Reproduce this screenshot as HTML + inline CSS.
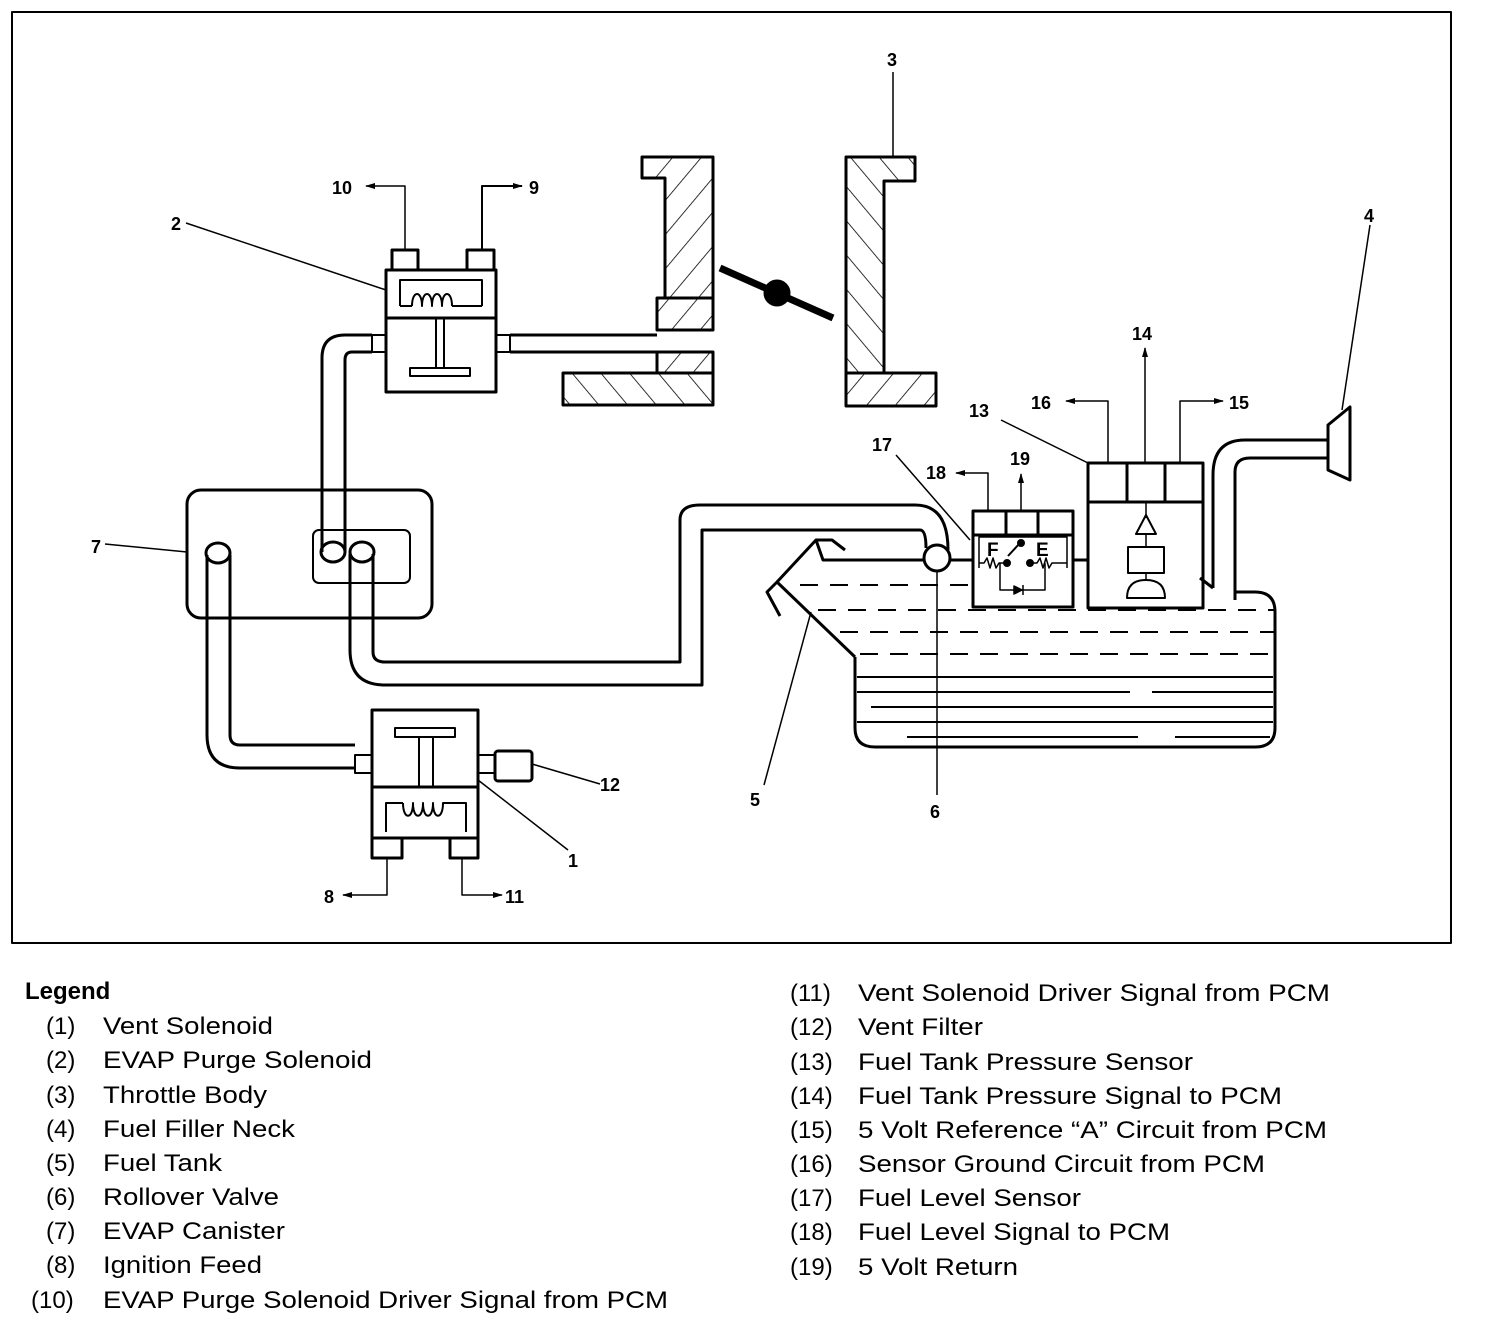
<!DOCTYPE html>
<html><head><meta charset="utf-8"><style>
html,body{margin:0;padding:0;background:#fff;}
svg{display:block;}
text{font-family:"Liberation Sans",Arial,sans-serif;fill:#000;}
</style></head><body>
<svg width="1504" height="1326" viewBox="0 0 1504 1326" xmlns="http://www.w3.org/2000/svg">
<defs>
<pattern id="h1" patternUnits="userSpaceOnUse" width="22" height="22" patternTransform="rotate(40)">
<rect width="22" height="22" fill="#fff"/><line x1="0" y1="0" x2="0" y2="22" stroke="#000" stroke-width="1.6"/></pattern>
<pattern id="h2" patternUnits="userSpaceOnUse" width="22" height="22" patternTransform="rotate(-40)">
<rect width="22" height="22" fill="#fff"/><line x1="0" y1="0" x2="0" y2="22" stroke="#000" stroke-width="1.6"/></pattern>
<marker id="ar" markerWidth="10" markerHeight="8" refX="9" refY="4" orient="auto" markerUnits="userSpaceOnUse"><path d="M0,1 L10,4 L0,7 Z" fill="#000"/></marker>
</defs>
<g fill="none" stroke="#000" stroke-width="3" stroke-linejoin="round">
<rect x="12" y="12" width="1439" height="931" stroke-width="2"/>

<rect x="392" y="250" width="26" height="20"/><rect x="467" y="250" width="27" height="20"/>
<rect x="386" y="270" width="110" height="48"/>
<rect x="386" y="318" width="110" height="74"/>
<path d="M400,306 V280 H482 V306" stroke-width="2"/>
<path d="M400,306 H412 M412,306 C412,290 422,290 422,306 C422,290 432,290 432,306 C432,290 442,290 442,306 C442,290 452,290 452,306 M452,306 H482" stroke-width="2"/>
<path d="M436,318 V368 M444,318 V368" stroke-width="2"/>
<rect x="410" y="368" width="60" height="8" stroke-width="2"/>
<rect x="372" y="335" width="14" height="17" stroke-width="2"/>
<rect x="496" y="335" width="14" height="17" stroke-width="2"/>
<path d="M510,335 H657 M510,352 H657"/>
<path d="M405,250 V186 H366" stroke-width="1.5" marker-end="url(#ar)"/>
<path d="M482,250 V186 H522" stroke-width="2" marker-end="url(#ar)"/>
<path d="M186,223 L386,290" stroke-width="1.5"/>

<path d="M642,157 H713 V298 H665 V178 H642 Z" fill="url(#h1)"/>
<rect x="657" y="298" width="56" height="32" fill="url(#h1)"/>
<rect x="657" y="352" width="56" height="21" fill="url(#h1)"/>
<rect x="563" y="373" width="150" height="32" fill="url(#h2)"/>
<path d="M846,157 H915 V181 H884 V373 H846 Z" fill="url(#h2)"/>
<rect x="846" y="373" width="90" height="33" fill="url(#h1)"/>
<line x1="720" y1="268" x2="833" y2="318" stroke-width="7"/>
<circle cx="777" cy="293" r="12" fill="#000"/>
<path d="M893,72 V157 H885" stroke-width="1.5"/>

<path d="M372,335 H345 Q322,335 322,358 V555"/>
<path d="M372,352 H352 Q345,352 345,360 V550"/>

<rect x="187" y="490" width="245" height="128" rx="14"/>
<rect x="313" y="530" width="97" height="53" rx="6" stroke-width="2"/>
<ellipse cx="333" cy="552" rx="12" ry="10" fill="#fff"/>
<ellipse cx="362" cy="552" rx="12" ry="10" fill="#fff"/>
<ellipse cx="218" cy="553" rx="12" ry="10" fill="#fff"/>
<path d="M322,535 V552 M345,535 V552"/>
<path d="M105,544 L187,552" stroke-width="1.5"/>

<path d="M350,554 V650 Q350,685 385,685 H702 V530 H920 Q926,530 926,548"/>
<path d="M373,554 V652 Q373,662 385,662 H680 V520 Q680,505 700,505 H915 Q948,505 948,550"/>
<circle cx="937" cy="558" r="13" fill="#fff"/>

<path d="M207,555 V735 Q207,768 240,768 H355"/>
<path d="M230,555 V735 Q230,745 240,745 H355"/>

<rect x="372" y="710" width="106" height="77"/>
<rect x="372" y="787" width="106" height="51"/>
<rect x="355" y="755" width="17" height="18" stroke-width="2"/>
<rect x="478" y="755" width="17" height="18" stroke-width="2"/>
<rect x="495" y="751" width="37" height="30" rx="3"/>
<rect x="395" y="728" width="60" height="9" stroke-width="2"/>
<path d="M419,737 V787 M433,737 V787" stroke-width="2"/>
<path d="M386,832 V803 H403 M403,803 C403,820 413,820 413,803 C413,820 423,820 423,803 C423,820 433,820 433,803 C433,820 443,820 443,803 H466 V832" stroke-width="2"/>
<rect x="372" y="838" width="30" height="20"/><rect x="450" y="838" width="28" height="20"/>
<path d="M387,858 V895 H343" stroke-width="1.5" marker-end="url(#ar)"/>
<path d="M462,858 V895 H502" stroke-width="1.5" marker-end="url(#ar)"/>
<path d="M532,764 L600,784" stroke-width="1.5"/>
<path d="M478,780 L568,850" stroke-width="1.5"/>

<path d="M855,657 L777,582 L767,592 L780,616"/>
<path d="M777,582 L816,540 H832 L845,550"/>
<path d="M816,540 L823,560 H924" />
<path d="M855,657 V728 Q855,747 875,747 H1255 Q1275,747 1275,728 V612 Q1275,592 1255,592 H1235"/>
<path d="M1213,588 L1200,578"/>
<g stroke-width="2" stroke-dasharray="18,12">
<line x1="800" y1="585" x2="970" y2="585"/>
<line x1="818" y1="610" x2="1274" y2="610"/>
<line x1="840" y1="632" x2="1274" y2="632"/>
<line x1="860" y1="654" x2="1274" y2="654"/>
</g>
<g stroke-width="2">
<line x1="857" y1="677" x2="1273" y2="677"/>
<line x1="857" y1="692" x2="1130" y2="692"/><line x1="1152" y1="692" x2="1273" y2="692"/>
<line x1="871" y1="707" x2="1273" y2="707"/>
<line x1="857" y1="722" x2="1273" y2="722"/>
<line x1="907" y1="737" x2="1138" y2="737"/><line x1="1175" y1="737" x2="1270" y2="737"/>
</g>
<path d="M1213,588 V475 Q1213,440 1245,440 H1328"/>
<path d="M1235,600 V472 Q1235,458 1250,458 H1328"/>
<path d="M1328,425 L1350,407 V480 L1328,470 Z" fill="#fff"/>
<path d="M1370,225 L1342,410" stroke-width="1.5"/>

<path d="M950,560 H973 M1073,560 H1088" />
<rect x="973" y="511" width="100" height="96"/>
<path d="M973,535 H1073 M1006,511 V535 M1038,511 V535"/>
<path d="M979,568 V537 H1067 V568" stroke-width="1.5"/>
<path d="M979,563 H984 L987,558 L990,568 L993,558 L996,568 L999,563 H1007" stroke-width="1.5"/>
<path d="M1029,563 H1037 L1040,558 L1043,568 L1046,558 L1049,568 L1052,563 H1067" stroke-width="1.5"/>
<circle cx="1007" cy="563" r="2.5" fill="#000"/><circle cx="1030" cy="563" r="2.5" fill="#000"/>
<path d="M1008,556 L1020,543" stroke-width="2"/><circle cx="1021" cy="543" r="2.5" fill="#000"/>
<path d="M1000,563 V590 H1045 V563" stroke-width="1.5"/>
<path d="M1014,586 L1022,590 L1014,594 Z M1023,585 V595" stroke-width="1.5" fill="#000"/>
<path d="M988,511 V473 H956" stroke-width="1.5" marker-end="url(#ar)"/>
<path d="M1021,511 V474" stroke-width="1.5" marker-end="url(#ar)"/>
<path d="M896,455 L970,540" stroke-width="1.5"/>

<rect x="1088" y="463" width="115" height="145"/>
<path d="M1088,502 H1203 M1127,463 V502 M1165,463 V502"/>
<path d="M1146,502 V518" stroke-width="1.5"/>
<path d="M1146,515 L1136,534 H1156 Z" stroke-width="2"/>
<path d="M1146,534 V547" stroke-width="1.5"/>
<rect x="1128" y="547" width="36" height="26" stroke-width="2"/>
<path d="M1146,573 V580" stroke-width="1.5"/>
<path d="M1127,598 Q1127,580 1146,580 Q1165,580 1165,598 Z" stroke-width="2"/>
<path d="M1108,463 V401 H1066" stroke-width="1.5" marker-end="url(#ar)"/>
<path d="M1145,463 V348" stroke-width="1.5" marker-end="url(#ar)"/>
<path d="M1180,463 V401 H1223" stroke-width="1.5" marker-end="url(#ar)"/>
<path d="M1001,420 L1088,463" stroke-width="1.5"/>

<path d="M764,785 L811,612" stroke-width="1.5"/>
<path d="M937,571 V795" stroke-width="1.5"/>
</g>

<g font-size="18" font-weight="bold">
<text x="332" y="194">10</text><text x="529" y="194">9</text>
<text x="171" y="230">2</text><text x="887" y="66">3</text>
<text x="1364" y="222">4</text><text x="91" y="553">7</text>
<text x="750" y="806">5</text><text x="930" y="818">6</text>
<text x="600" y="791">12</text><text x="568" y="867">1</text>
<text x="324" y="903">8</text><text x="505" y="903">11</text>
<text x="969" y="417">13</text><text x="1031" y="409">16</text>
<text x="1132" y="340">14</text><text x="1229" y="409">15</text>
<text x="872" y="451">17</text><text x="926" y="479">18</text>
<text x="1010" y="465">19</text>
<text x="987" y="556" font-size="19">F</text><text x="1036" y="556" font-size="19">E</text>
</g>

<g font-size="24">
<text x="25" y="999" font-weight="bold">Legend</text>
<text x="46" y="1034">(1)</text><text x="103" y="1034" textLength="170" lengthAdjust="spacingAndGlyphs">Vent Solenoid</text>
<text x="46" y="1068">(2)</text><text x="103" y="1068" textLength="269" lengthAdjust="spacingAndGlyphs">EVAP Purge Solenoid</text>
<text x="46" y="1103">(3)</text><text x="103" y="1103" textLength="164" lengthAdjust="spacingAndGlyphs">Throttle Body</text>
<text x="46" y="1137">(4)</text><text x="103" y="1137" textLength="192" lengthAdjust="spacingAndGlyphs">Fuel Filler Neck</text>
<text x="46" y="1171">(5)</text><text x="103" y="1171" textLength="119" lengthAdjust="spacingAndGlyphs">Fuel Tank</text>
<text x="46" y="1205">(6)</text><text x="103" y="1205" textLength="176" lengthAdjust="spacingAndGlyphs">Rollover Valve</text>
<text x="46" y="1239">(7)</text><text x="103" y="1239" textLength="182" lengthAdjust="spacingAndGlyphs">EVAP Canister</text>
<text x="46" y="1273">(8)</text><text x="103" y="1273" textLength="159" lengthAdjust="spacingAndGlyphs">Ignition Feed</text>
<text x="31" y="1308">(10)</text><text x="103" y="1308" textLength="565" lengthAdjust="spacingAndGlyphs">EVAP Purge Solenoid Driver Signal from PCM</text>

<text x="790" y="1001">(11)</text><text x="858" y="1001" textLength="472" lengthAdjust="spacingAndGlyphs">Vent Solenoid Driver Signal from PCM</text>
<text x="790" y="1035">(12)</text><text x="858" y="1035" textLength="125" lengthAdjust="spacingAndGlyphs">Vent Filter</text>
<text x="790" y="1070">(13)</text><text x="858" y="1070" textLength="335" lengthAdjust="spacingAndGlyphs">Fuel Tank Pressure Sensor</text>
<text x="790" y="1104">(14)</text><text x="858" y="1104" textLength="424" lengthAdjust="spacingAndGlyphs">Fuel Tank Pressure Signal to PCM</text>
<text x="790" y="1138">(15)</text><text x="858" y="1138" textLength="469" lengthAdjust="spacingAndGlyphs">5 Volt Reference “A” Circuit from PCM</text>
<text x="790" y="1172">(16)</text><text x="858" y="1172" textLength="407" lengthAdjust="spacingAndGlyphs">Sensor Ground Circuit from PCM</text>
<text x="790" y="1206">(17)</text><text x="858" y="1206" textLength="223" lengthAdjust="spacingAndGlyphs">Fuel Level Sensor</text>
<text x="790" y="1240">(18)</text><text x="858" y="1240" textLength="312" lengthAdjust="spacingAndGlyphs">Fuel Level Signal to PCM</text>
<text x="790" y="1275">(19)</text><text x="858" y="1275" textLength="160" lengthAdjust="spacingAndGlyphs">5 Volt Return</text>
</g>
</svg>
</body></html>
